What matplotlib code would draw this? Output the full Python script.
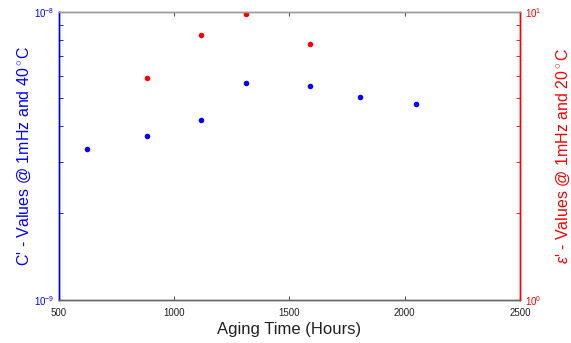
import matplotlib
matplotlib.use("Agg")
import matplotlib.pyplot as plt
from matplotlib.ticker import NullFormatter, FixedLocator

plt.rcParams['font.family'] = ['Liberation Sans', 'DejaVu Sans']
plt.rcParams['mathtext.fontset'] = 'custom'
plt.rcParams['mathtext.rm'] = 'Liberation Sans'
plt.rcParams['mathtext.it'] = 'Liberation Sans:italic'

# Data
hours_c = [620, 880, 1116, 1311, 1590, 1807, 2050]
c_values = [3.35e-9, 3.71e-9, 4.22e-9, 5.66e-9, 5.54e-9, 5.06e-9, 4.80e-9]
hours_e = [880, 1116, 1311, 1590]
e_values = [5.89, 8.28, 9.8, 7.7]
x_ticks = [500, 1000, 1500, 2000, 2500]

fig = plt.figure(figsize=(5.71, 3.43), dpi=100)
ax = fig.add_axes([0.1033, 0.1254, 0.8074, 0.8406])
ax2 = ax.twinx()

ax.plot(hours_c, c_values, 'o', color='#0000ff', markersize=4, markeredgewidth=0, clip_on=False)
ax2.plot(hours_e, e_values, 'o', color='#ff0000', markersize=4, markeredgewidth=0, clip_on=False)

ax.set_xlim(500, 2500)
ax.set_yscale('log')
ax.set_ylim(1e-9, 1e-8)
ax2.set_yscale('log')
ax2.set_ylim(1, 10)
ax.set_xticks(x_ticks)
ax.set_xticklabels([str(t) for t in x_ticks])

ax.yaxis.set_major_locator(FixedLocator([1e-9, 1e-8]))
ax.yaxis.set_minor_locator(FixedLocator([k * 1e-9 for k in range(2, 10)]))
ax2.yaxis.set_major_locator(FixedLocator([1, 10]))
ax2.yaxis.set_minor_locator(FixedLocator([k for k in range(2, 10)]))
ax.yaxis.set_minor_formatter(NullFormatter())
ax2.yaxis.set_minor_formatter(NullFormatter())

for a in (ax, ax2):
    for s in a.spines.values():
        s.set_linewidth(1.0)
    a.spines['top'].set_color('#999999')
    a.spines['bottom'].set_color('#666666')
    a.spines['left'].set_color('#0000ff')
    a.spines['right'].set_color('#ff0000')

ax.tick_params(axis='x', direction='in', top=True, length=3, color='#555555', labelsize=7, pad=5.5, labelcolor='#222222')
ax.tick_params(axis='y', which='both', direction='in', colors='#0000ff', labelsize=7, length=3)
ax2.tick_params(axis='y', which='both', direction='in', colors='#ff0000', labelsize=7, length=3)

ax.set_xlabel('Aging Time (Hours)', fontsize=12, color='#222222', labelpad=3)
ax.set_ylabel("C' - Values @ 1mHz and 40$^\\circ$C", fontsize=11.5, color='#0000ff', labelpad=0.5)
ax2.set_ylabel("$\\epsilon$' - Values @ 1mHz and 20$^\\circ$C", fontsize=11.5, color='#ff0000', labelpad=10)

fig.savefig('out.png', dpi=100)
